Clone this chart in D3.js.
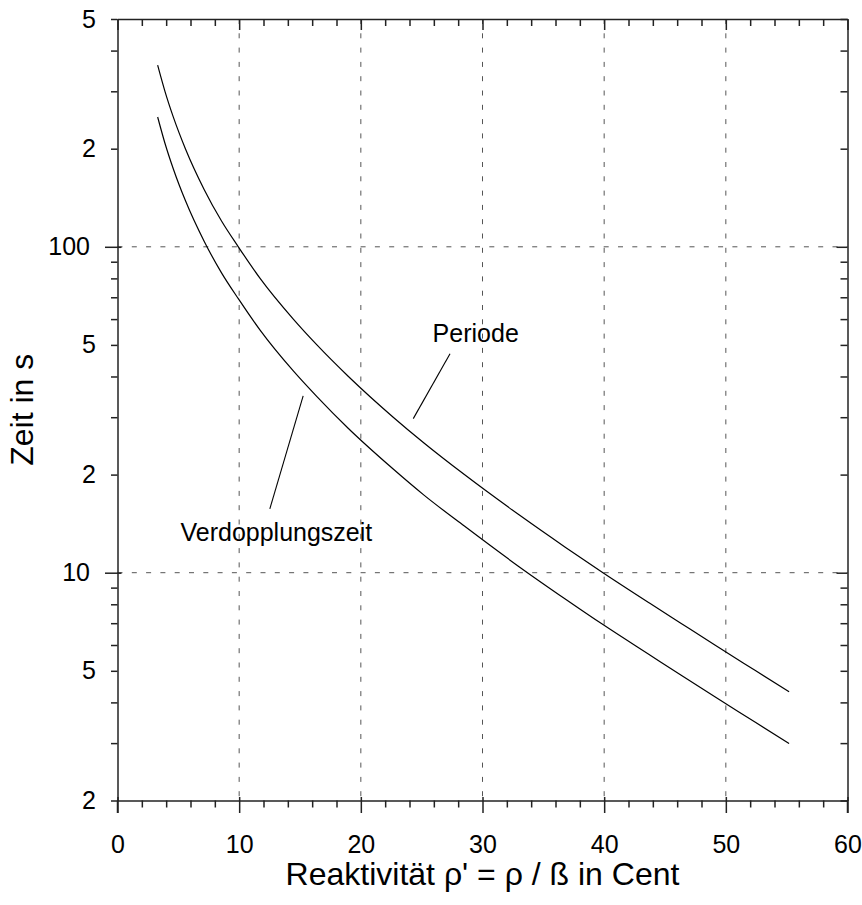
<!DOCTYPE html>
<meta charset="utf-8">
<style>
body { margin: 0; background: #fff; }
svg { font-family: "Liberation Sans", Arial, sans-serif; }
.grid { stroke: #555; stroke-width: 1; stroke-dasharray: 5, 9.3; fill: none; }
.curve { fill: none; stroke: #000; stroke-width: 1.2px; }
.lead { stroke: #000; stroke-width: 1.1px; }
.axis path, .axis line { stroke: #222; stroke-width: 1.5px; }
.axis text { font-size: 25px; fill: #000; font-family: "Liberation Sans", Arial, sans-serif; }
</style>
<body>
<script src="https://d3js.org/d3.v7.min.js"></script>
<script>

// reactivity in cent
let rho = [3.3, 3.9, 4.59, 5.58, 7.12, 8.55, 9.93, 11.72, 14.45, 16.39, 18.98,
           22.66, 25.19, 28.51, 33.06, 36.77, 39.9, 43.88, 46.3, 49.1, 52.46, 55.2];
// period in s
let periode = [361, 300, 250, 200, 150, 120, 100, 80, 60, 50, 40,
               30, 25, 20, 15, 12, 10, 8, 7, 6, 5, 4.31];
// doubling time in s
let verdopplung = [250.2, 207.9, 173.3, 138.6, 104.0, 83.2, 69.3, 55.5, 41.6, 34.7, 27.7,
                   20.8, 17.3, 13.9, 10.4, 8.32, 6.93, 5.55, 4.85, 4.16, 3.47, 2.99];

let xMajor = [0, 10, 20, 30, 40, 50, 60];
let xMinor = [2, 4, 6, 8, 12, 14, 16, 18, 22, 24, 26, 28, 32, 34, 36, 38, 42, 44, 46, 48, 52, 54, 56, 58];
let yMajor = [10, 100];
let yMinor = [2, 3, 4, 5, 6, 7, 8, 9, 20, 30, 40, 50, 60, 70, 80, 90, 200, 300, 400, 500];
let yLabelValues = [2, 5, 10, 20, 50, 100, 200, 500];
let yLabels = ["2", "5", "10", "2", "5", "100", "2", "5"];

// annotations [x, y] in data units
let periodeLabel = {text: "Periode", at: [25.9, 51.2], lead: [[27.33, 47.0], [24.31, 29.7]]};
let verdLabel = {text: "Verdopplungszeit", at: [20.94, 12.53], lead: [[15.26, 34.9], [12.52, 15.7]]};

let margin = {top: 19, right: 14.5, bottom: 104.5, left: 117.5},
    width = 862 - margin.left - margin.right,
    height = 905 - margin.top - margin.bottom;

let x = d3.scaleLinear().domain([0, 60]).range([0, width]);
let y = d3.scaleLog().domain([2, 500]).range([height, 0]);

let svg = d3.select("body").append("svg")
    .attr("width", 862)
    .attr("height", 905)
    .append("g")
    .attr("transform", "translate(" + margin.left + "," + margin.top + ")");

// grid lines
svg.selectAll(".gx").data(xMajor.slice(1, -1)).enter().append("line")
    .attr("class", "grid")
    .attr("x1", d => x(d)).attr("x2", d => x(d))
    .attr("y1", 0).attr("y2", height);
svg.selectAll(".gy").data(yMajor).enter().append("line")
    .attr("class", "grid")
    .attr("y1", d => y(d)).attr("y2", d => y(d))
    .attr("x1", 0).attr("x2", width);

// bottom axis
svg.append("g").attr("class", "axis")
    .attr("transform", "translate(0," + height + ")")
    .call(d3.axisBottom(x).tickValues(xMinor).tickSize(7).tickSizeOuter(0).tickFormat(""));
let bMaj = svg.append("g").attr("class", "axis")
    .attr("transform", "translate(0," + height + ")")
    .call(d3.axisBottom(x).tickValues(xMajor).tickSize(12.5).tickSizeOuter(0).tickFormat(d3.format("d")));
bMaj.select(".domain").remove();
bMaj.selectAll(".tick line").attr("y1", -3.5);
bMaj.selectAll(".tick text").attr("y", 52.5).attr("dy", 0);

// top axis
svg.append("g").attr("class", "axis")
    .call(d3.axisBottom(x).tickValues(xMinor).tickSize(7).tickSizeOuter(0).tickFormat(""));
svg.append("g").attr("class", "axis")
    .call(d3.axisBottom(x).tickValues(xMajor).tickSize(11).tickSizeOuter(0).tickFormat(""))
    .select(".domain").remove();

// left axis
svg.append("g").attr("class", "axis")
    .call(d3.axisLeft(y).tickValues(yMinor).tickSize(6.5).tickSizeOuter(0).tickFormat(""));
let lMaj = svg.append("g").attr("class", "axis")
    .call(d3.axisLeft(y).tickValues(yMajor).tickSize(12.5).tickSizeOuter(0).tickFormat(""));
lMaj.select(".domain").remove();
lMaj.selectAll(".tick line").attr("x1", 4);
let lLab = svg.append("g").attr("class", "axis")
    .call(d3.axisLeft(y).tickValues(yLabelValues).tickSize(0)
        .tickFormat(d => yLabels[yLabelValues.indexOf(d)]));
lLab.select(".domain").remove();
lLab.selectAll(".tick text").attr("x", d => yMajor.includes(d) ? -27.5 : -21.5);

// right axis
svg.append("g").attr("class", "axis")
    .attr("transform", "translate(" + width + ",0)")
    .call(d3.axisLeft(y).tickValues(yMinor).tickSize(7).tickSizeOuter(0).tickFormat(""))
    .selectAll(".tick line").attr("x2", -7);
svg.append("g").attr("class", "axis")
    .attr("transform", "translate(" + width + ",0)")
    .call(d3.axisLeft(y).tickValues(yMajor).tickSize(11).tickSizeOuter(0).tickFormat(""))
    .select(".domain").remove();
// extend left and right frame lines to the bottom tick length
svg.append("g").attr("class", "axis")
    .selectAll("line").data([0, 60]).enter().append("line")
    .attr("x1", d => x(d)).attr("x2", d => x(d))
    .attr("y1", height).attr("y2", height + 12.5);

// curves
let line = d3.line().curve(d3.curveMonotoneX);
svg.append("path").attr("class", "curve")
    .attr("d", line(rho.map((r, i) => [x(r), y(periode[i])])));
svg.append("path").attr("class", "curve")
    .attr("d", line(rho.map((r, i) => [x(r), y(verdopplung[i])])));

// labels
[periodeLabel, verdLabel].forEach(function (a, k) {
    svg.append("line").attr("class", "lead")
        .attr("x1", x(a.lead[0][0])).attr("y1", y(a.lead[0][1]))
        .attr("x2", x(a.lead[1][0])).attr("y2", y(a.lead[1][1]));
    svg.append("text")
        .attr("x", x(a.at[0])).attr("y", y(a.at[1]))
        .attr("text-anchor", k === 0 ? "start" : "end")
        .style("font-size", "25px")
        .text(a.text);
});

// axis titles
svg.append("text")
    .attr("x", width / 2).attr("y", height + 84)
    .attr("text-anchor", "middle")
    .style("font-size", "32px")
    .text("Reaktivität ρ' = ρ / ß  in Cent");
svg.append("text")
    .attr("transform", "translate(" + (33 - margin.left) + "," + (height / 2) + ") rotate(-90)")
    .attr("text-anchor", "middle")
    .style("font-size", "32px")
    .text("Zeit  in  s");

</script>
</body>
